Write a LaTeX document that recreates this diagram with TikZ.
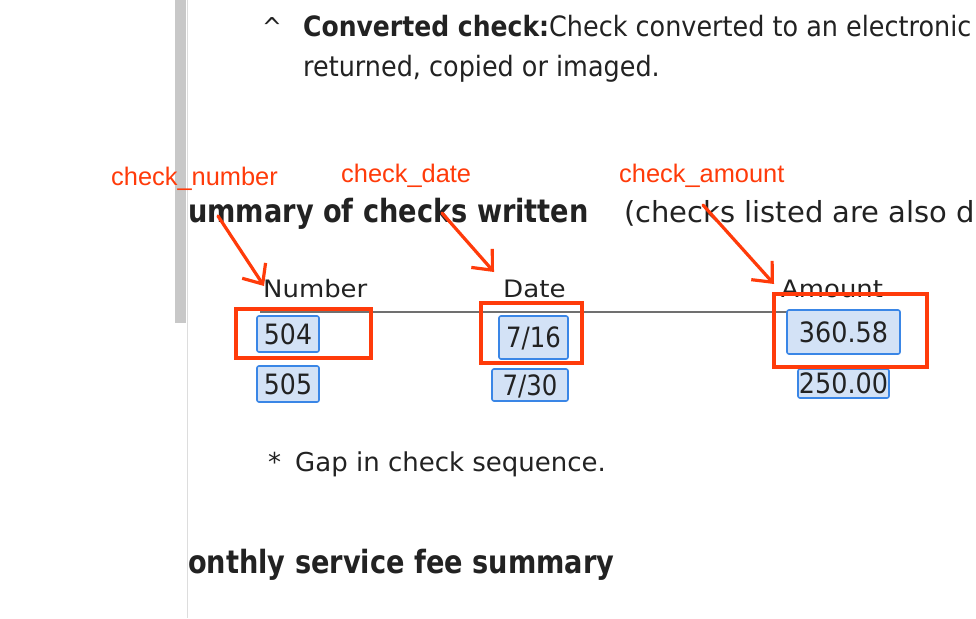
\documentclass[tikz,border=0pt]{standalone}
\usepackage{fontspec}
\setmainfont{DejaVu Sans}
\newfontfamily\lblfont{Liberation Sans}
\usetikzlibrary{arrows.meta}
\definecolor{annored}{HTML}{FF3B0A}
\definecolor{textgray}{HTML}{222222}
\definecolor{boxblue}{HTML}{3A86E6}
\definecolor{boxfill}{HTML}{D3E2F6}
\definecolor{bargray}{HTML}{C8C8C8}
\definecolor{edgegray}{HTML}{DDDDDD}
\definecolor{rulegray}{HTML}{707070}
\newcommand\sx[3]{\scalebox{#1}[1]{\fontsize{#2}{#2}\selectfont #3}}
\begin{document}
\begin{tikzpicture}[x=1pt,y=-1pt,
  txt/.style={inner sep=0pt, anchor=base west, text=textgray},
  lbl/.style={inner sep=0pt, anchor=base west, text=annored, font=\lblfont\fontsize{25.4}{25.4}\selectfont},
  redbox/.style={draw=annored, line width=4pt},
  bluebox/.style={draw=boxblue, fill=boxfill, line width=1.6pt, rounded corners=2pt, inner sep=0pt, text=textgray, text height=20pt, text depth=0pt},
  redarrow/.style={draw=annored, line width=3.2pt, line cap=round, -{Straight Barb[length=16pt,width=28pt]}}]
\useasboundingbox (0,0) rectangle (976,618);
\fill[white] (0,0) rectangle (976,618);
% scrollbar and page edge
\fill[bargray] (175,0) rectangle (186,323);
\draw[edgegray, line width=1.2pt] (187.5,0) -- (187.5,618);
% top text
\node[txt] (caret) at (262,37) {\sx{0.91}{26}{\^{}}};
\node[txt] (conv) at (303,37) {\sx{0.895}{28}{\bfseries Converted check:}};
\node[txt] (convtxt) at (549,37) {\sx{0.91}{28}{Check converted to an electronic}};
\node[txt] (ret) at (303,77) {\sx{0.91}{28}{returned, copied or imaged.}};
% headings
\node[txt] (summ) at (188,222) {\sx{0.85}{32}{\bfseries ummary of checks written}};
\node[txt] (listed) at (624,222) {\sx{1.0}{29}{(checks listed are also d}};
% column headers
\node[txt] (hnum) at (263,297) {\sx{1.08}{24}{Number}};
\node[txt] (hdate) at (503,297) {\sx{1.09}{24}{Date}};
\node[txt] (hamt) at (781,297) {\sx{1.08}{24}{Amount}};
\draw[rulegray, line width=1.6pt] (260,312) -- (893,312);
% blue boxes
\node[bluebox, minimum width=62pt, minimum height=36pt] (n504) at (288,334) {\sx{0.9}{28}{504}};
\node[bluebox, minimum width=62pt, minimum height=36pt] (n505) at (288,384) {\sx{0.9}{28}{505}};
\node[bluebox, minimum width=69pt, minimum height=43pt] (d716) at (533.5,337.5) {\sx{0.87}{28}{7/16}};
\node[bluebox, minimum width=76pt, minimum height=32pt] (d730) at (530,385) {\sx{0.87}{28}{7/30}};
\node[bluebox, minimum width=113pt, minimum height=44pt] (a360) at (843.5,332) {\sx{0.91}{28}{360.58}};
\node[bluebox, minimum width=91pt, minimum height=29pt] (a250) at (843.5,383.5) {\sx{0.91}{28}{250.00}};
% footnote and next heading
\node[txt] (star) at (268,471) {\sx{1.0}{26}{*}};
\node[txt] (gap) at (295,471) {\sx{1.0}{26}{Gap in check sequence.}};
\node[txt] (monthly) at (188,573) {\sx{0.85}{32}{\bfseries onthly service fee summary}};
% red annotation boxes
\draw[redbox] (236,309) rectangle (371,358);
\draw[redbox] (481,303) rectangle (582,363);
\draw[redbox] (774,294) rectangle (927,367);
% labels
\node[lbl] (lnum) at (111,185) {check\_number};
\node[lbl] (ldate) at (341,182) {check\_date};
\node[lbl] (lamt) at (619,182) {check\_amount};
% arrows
\coordinate (s1) at (218,216); \coordinate (t1) at (264,286);
\coordinate (s2) at (442,213); \coordinate (t2) at (494,272);
\coordinate (s3) at (703,205); \coordinate (t3) at (774,284);
\draw[redarrow] (s1) -- (t1);
\draw[redarrow] (s2) -- (t2);
\draw[redarrow] (s3) -- (t3);
\end{tikzpicture}
\end{document}
